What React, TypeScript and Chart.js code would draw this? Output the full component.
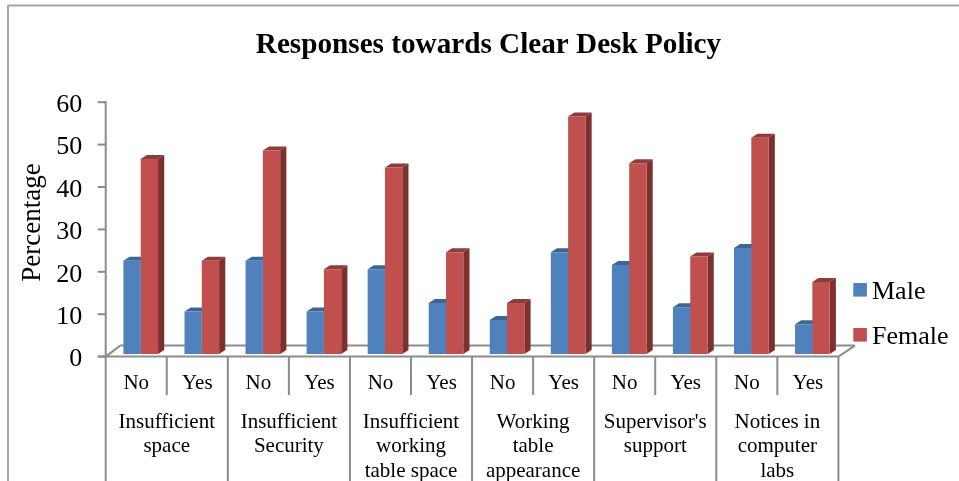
import React, { useEffect, useRef } from "react";
import { Chart, registerables } from "chart.js";

Chart.register(...registerables);

const chartTitle = "Responses towards Clear Desk Policy";
const yTitle = "Percentage";
const answers = ["No", "Yes", "No", "Yes", "No", "Yes", "No", "Yes", "No", "Yes", "No", "Yes"];
const groups = [
  ["Insufficient", "space"],
  ["Insufficient", "Security"],
  ["Insufficient", "working", "table space"],
  ["Working", "table", "appearance"],
  ["Supervisor's", "support"],
  ["Notices in", "computer", "labs"],
];
const male = [22, 10, 22, 10, 20, 12, 8, 24, 21, 11, 25, 7];
const female = [46, 22, 48, 20, 44, 24, 12, 56, 45, 23, 51, 17];
const yTicks = [0, 10, 20, 30, 40, 50, 60];

const SERIF = "'Liberation Serif', 'Times New Roman', serif";
const AXIS = "#8c8c8c";
const FRAME = "#a6a6a6";
const SHIFT_X = 4.5;
const SHIFT_Y = 2.6;
const DEPTH_X = 6.2;
const DEPTH_Y = 4;

const faces = [
  { top: "#3d6694", side: "#35587f" },
  { top: "#8f3b39", side: "#7d302e" },
];

function line(ctx: CanvasRenderingContext2D, x1: number, y1: number, x2: number, y2: number) {
  ctx.beginPath();
  ctx.moveTo(x1, y1);
  ctx.lineTo(x2, y2);
  ctx.stroke();
}

function poly(ctx: CanvasRenderingContext2D, pts: number[][], fill: string) {
  ctx.fillStyle = fill;
  ctx.beginPath();
  pts.forEach(([x, y], i) => (i ? ctx.lineTo(x, y) : ctx.moveTo(x, y)));
  ctx.closePath();
  ctx.fill();
}

const decor = {
  id: "decor",
  afterLayout(chart: any) {
    // the title is centred on the whole picture, not on the plot plus margin
    chart.titleBlock.left = 18;
    chart.titleBlock.right = chart.width;
  },
  beforeDatasetsDraw(chart: any) {
    const { ctx, scales } = chart;
    const x = scales.x;
    const y = scales.y;
    const left = x.left - SHIFT_X;
    const right = x.right - SHIFT_X;
    const floor = y.getPixelForValue(0) + SHIFT_Y;
    const cat = (x.right - x.left) / answers.length;
    ctx.save();

    // outer frame
    ctx.strokeStyle = FRAME;
    ctx.lineWidth = 2;
    line(ctx, 8, 5.5, 959, 5.5);
    line(ctx, 8, 5, 8, 481);

    // floor
    ctx.strokeStyle = AXIS;
    ctx.lineWidth = 2;
    line(ctx, left, floor, left + 14.5, floor - 11);
    line(ctx, left + 14.5, floor - 11, right + 16.5, floor - 11);
    line(ctx, right + 16.5, floor - 11, right, floor);
    line(ctx, left - 8, floor, right, floor);

    // value axis
    line(ctx, left, y.getPixelForValue(60) + SHIFT_Y - 1, left, floor);
    yTicks.forEach((v) => {
      const py = y.getPixelForValue(v) + SHIFT_Y;
      line(ctx, left - 8, py, left, py);
    });

    // category separators
    for (let i = 0; i <= answers.length; i++) {
      const px = left + i * cat;
      line(ctx, px, floor, px, i % 2 === 0 ? chart.height : x.bottom);
    }

    // 3D faces of the bars
    chart.data.datasets.forEach((_: any, d: number) => {
      chart.getDatasetMeta(d).data.forEach((bar: any) => {
        const l = bar.x - bar.width / 2;
        const r = bar.x + bar.width / 2;
        const t = bar.y;
        const b = bar.base;
        poly(ctx, [[l, t], [l + DEPTH_X, t - DEPTH_Y], [r + DEPTH_X, t - DEPTH_Y], [r, t]], faces[d].top);
        poly(ctx, [[r, t], [r + DEPTH_X, t - DEPTH_Y], [r + DEPTH_X, b - DEPTH_Y], [r, b]], faces[d].side);
      });
    });
    ctx.restore();
  },
  afterDraw(chart: any) {
    const { ctx } = chart;
    ctx.save();
    ctx.fillStyle = "#000";

    // value-axis title
    ctx.font = `27px ${SERIF}`;
    ctx.textAlign = "center";
    ctx.textBaseline = "middle";
    ctx.translate(33, 222.5);
    ctx.rotate(-Math.PI / 2);
    ctx.fillText(yTitle, 0, 0);
    ctx.setTransform(chart.currentDevicePixelRatio, 0, 0, chart.currentDevicePixelRatio, 0, 0);

    // legend
    ctx.font = `26px ${SERIF}`;
    ctx.textAlign = "left";
    const rows = [290, 335];
    chart.data.datasets.forEach((ds: any, i: number) => {
      ctx.fillStyle = ds.backgroundColor;
      ctx.fillRect(853.3, rows[i] - 7, 13.6, 13.6);
      ctx.fillStyle = "#000";
      ctx.fillText(ds.label, 872, rows[i] + 2);
    });
    ctx.restore();
  },
};

export default function App() {
  const ref = useRef<HTMLCanvasElement>(null);

  useEffect(() => {
    const chart = new Chart(ref.current as HTMLCanvasElement, {
      type: "bar",
      data: {
        labels: answers,
        datasets: [
          { label: "Male", data: male, backgroundColor: "#4f81bd", categoryPercentage: 0.567, barPercentage: 1 },
          { label: "Female", data: female, backgroundColor: "#c0504d", categoryPercentage: 0.567, barPercentage: 1 },
        ],
      },
      plugins: [decor],
      options: {
        responsive: false,
        animation: false,
        devicePixelRatio: 1,
        layout: { padding: { left: 18, right: 116.1, top: 0, bottom: 0 } },
        plugins: {
          legend: { display: false },
          tooltip: { enabled: false },
          title: {
            display: true,
            text: chartTitle,
            color: "#000",
            font: { family: SERIF, size: 29.2, weight: "bold" },
            padding: { top: 28, bottom: 36.56 },
          },
        },
        scales: {
          x: {
            position: "bottom",
            grid: { display: false },
            border: { display: false },
            afterFit: (s: any) => { s.height = 41; },
            ticks: {
              color: "#000",
              font: { family: SERIF, size: 21 },
              padding: 8.9,
              labelOffset: -SHIFT_X,
              autoSkip: false,
              maxRotation: 0,
            },
          },
          x2: {
            type: "category",
            position: "bottom",
            labels: groups as any,
            grid: { display: false },
            border: { display: false },
            afterFit: (s: any) => { s.height = 86; },
            ticks: {
              color: "#000",
              font: { family: SERIF, size: 21, lineHeight: 1.18 },
              padding: 6.7,
              labelOffset: -SHIFT_X,
              autoSkip: false,
              maxRotation: 0,
            },
          },
          y: {
            min: 0,
            max: 60,
            afterFit: (s: any) => { s.width = 92.2; },
            afterBuildTicks: (s: any) => { s.ticks = yTicks.map((value) => ({ value })); },
            grid: { display: false },
            border: { display: false },
            ticks: {
              color: "#000",
              font: { family: SERIF, size: 26 },
              padding: 20,
              labelOffset: SHIFT_Y + 3,
            },
          },
        },
      },
    } as any);
    return () => chart.destroy();
  }, []);

  return (
    <canvas
      ref={ref}
      width={959}
      height={481}
      style={{ position: "fixed", left: 0, top: 0, display: "block", background: "#fff" }}
    />
  );
}
